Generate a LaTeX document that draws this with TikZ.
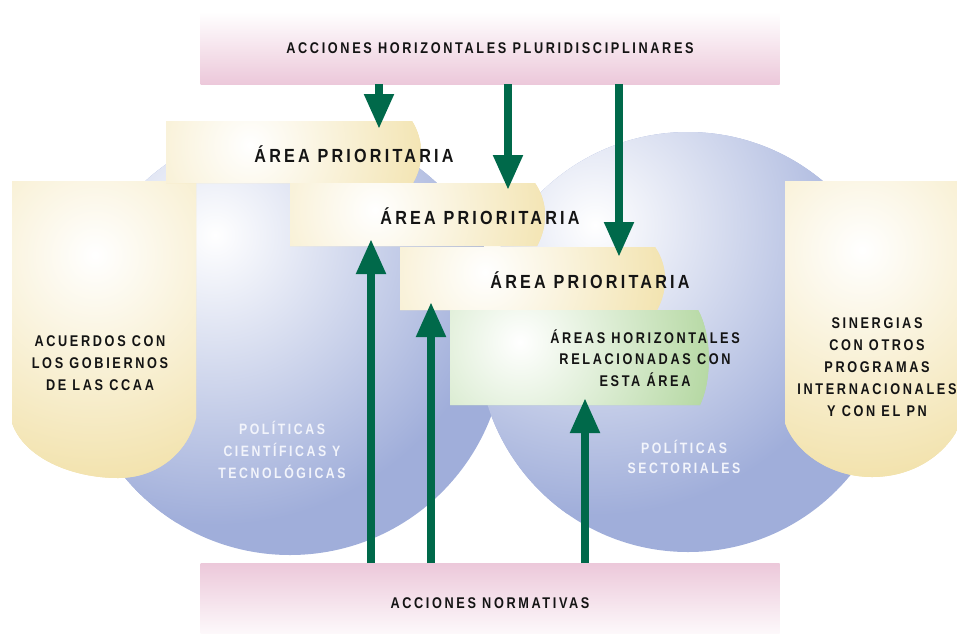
\documentclass[tikz,border=0pt]{standalone}
\usepackage{fontspec}
\setmainfont{Liberation Sans}
\newfontfamily\lab[LetterSpace=17,FakeStretch=0.82]{Liberation Sans}
\newfontfamily\labA[LetterSpace=17,FakeStretch=0.85]{Liberation Sans}
\usetikzlibrary{arrows.meta}
\definecolor{arrowgreen}{HTML}{00694A}
\definecolor{pinkb}{HTML}{ECC8DA}
\definecolor{creamy}{HTML}{F2E2AC}
\definecolor{greenbox}{HTML}{B3D7A0}
\definecolor{sphereblue}{HTML}{A0AEDA}
\definecolor{txt}{HTML}{141414}
\definecolor{paletxt}{HTML}{F2F4FB}
\tikzset{
  banner/.style={minimum width=579pt, inner sep=0pt, outer sep=0pt,
    font=\lab\bfseries\fontsize{15.5}{18}\selectfont, text=txt},
  areatxt/.style={font=\labA\bfseries\fontsize{19}{22}\selectfont, text=txt, inner sep=0pt},
  shieldtxt/.style={font=\lab\bfseries\fontsize{15.5}{22}\selectfont, text=txt, align=center, inner sep=0pt},
  greentxt/.style={font=\lab\bfseries\fontsize{15.5}{21.5}\selectfont, text=txt, align=center, inner sep=0pt},
  poltxt/.style={font=\lab\bfseries\fontsize{15}{22}\selectfont, text=paletxt, align=center, inner sep=0pt},
  arr/.style={draw=arrowgreen, line width=8pt, -{Triangle[width=28pt,length=35pt]}, arrowgreen}
}
\begin{document}
\begin{tikzpicture}[x=1pt,y=-1pt]
\useasboundingbox (0,0) rectangle (957,633);
% spheres
\begin{scope}
  \clip (290,340) circle (215pt);
  \fill[sphereblue] (290,340) circle (216pt);
  \shade[inner color=white, outer color=sphereblue] (215,235) circle (290pt);
\end{scope}
\begin{scope}
  \clip (688,342) circle (210pt);
  \fill[sphereblue] (688,342) circle (211pt);
  \shade[inner color=white, outer color=sphereblue] (595,225) circle (290pt);
\end{scope}
% left shield
\begin{scope}
  \clip (12,181) -- (196,181) -- (196,418) .. controls (188,452) and (158,478) .. (118,478)
        .. controls (72,478) and (24,458) .. (12,423) -- cycle;
  \fill[creamy] (0,170) rectangle (210,490);
  \shade[inner color=white, outer color=creamy] (95,255) circle (230pt);
\end{scope}
% right shield
\begin{scope}
  \clip (785,181) -- (960,181) -- (960,425) .. controls (945,456) and (912,477) .. (872,477)
        .. controls (830,477) and (795,452) .. (785,423) -- cycle;
  \fill[creamy] (770,170) rectangle (970,490);
  \shade[inner color=white, outer color=creamy] (862,250) circle (230pt);
\end{scope}
% area boxes
\begin{scope}
  \clip (166,121) -- (412,121) .. controls (424,140) and (424,164) .. (413,183) -- (166,183) -- cycle;
  \fill[creamy] (160,115) rectangle (430,190);
  \shade[inner color=white, outer color=creamy] (250,145) circle (190pt);
\end{scope}
\begin{scope}
  \clip (290,183) -- (535,183) .. controls (548,202) and (548,226) .. (537,246) -- (290,246) -- cycle;
  \fill[creamy] (285,178) rectangle (555,250);
  \shade[inner color=white, outer color=creamy] (375,210) circle (190pt);
\end{scope}
\begin{scope}
  \clip (400,247) -- (655,247) .. controls (668,266) and (668,290) .. (657,310) -- (400,310) -- cycle;
  \fill[creamy] (395,242) rectangle (675,315);
  \shade[inner color=white, outer color=creamy] (485,272) circle (190pt);
\end{scope}
\begin{scope}
  \clip (450,310) -- (698,310) .. controls (712,335) and (712,380) .. (700,405) -- (450,405) -- cycle;
  \fill[greenbox] (445,305) rectangle (720,410);
  \shade[inner color=white, outer color=greenbox] (520,342) circle (200pt);
\end{scope}
% banners
\node[banner, minimum height=72pt, top color=white, bottom color=pinkb] (topb) at (490,48)
  {ACCIONES HORIZONTALES PLURIDISCIPLINARES};
\node[banner, minimum height=80pt, top color=pinkb, bottom color=white] (botb) at (490,603)
  {ACCIONES NORMATIVAS};
% texts
\node[areatxt] (a1) at (354,154) {ÁREA PRIORITARIA};
\node[areatxt] (a2) at (480,216) {ÁREA PRIORITARIA};
\node[areatxt] (a3) at (590,280) {ÁREA PRIORITARIA};
\node[greentxt] (g) at (645,358) {ÁREAS HORIZONTALES\\RELACIONADAS CON\\ESTA ÁREA};
\node[shieldtxt] (ls) at (100,363) {ACUERDOS CON\\LOS GOBIERNOS\\DE LAS CCAA};
\node[shieldtxt] (rs) at (877,367) {SINERGIAS\\CON OTROS\\PROGRAMAS\\INTERNACIONALES\\Y CON EL PN};
\node[poltxt] (pl) at (282,450) {POLÍTICAS\\CIENTÍFICAS Y\\TECNOLÓGICAS};
\node[poltxt, font=\lab\bfseries\fontsize{15}{20}\selectfont] (pr) at (684,457) {POLÍTICAS\\SECTORIALES};
% arrow tips
\coordinate (d1) at (379,129);
\coordinate (d2) at (508,190);
\coordinate (d3) at (619,257);
\coordinate (u1) at (371,239);
\coordinate (u2) at (431,302);
\coordinate (u3) at (585,398);
\draw[arr] (topb.south -| d1) -- (d1);
\draw[arr] (topb.south -| d2) -- (d2);
\draw[arr] (topb.south -| d3) -- (d3);
\draw[arr] (botb.north -| u1) -- (u1);
\draw[arr] (botb.north -| u2) -- (u2);
\draw[arr] (botb.north -| u3) -- (u3);
\end{tikzpicture}
\end{document}
